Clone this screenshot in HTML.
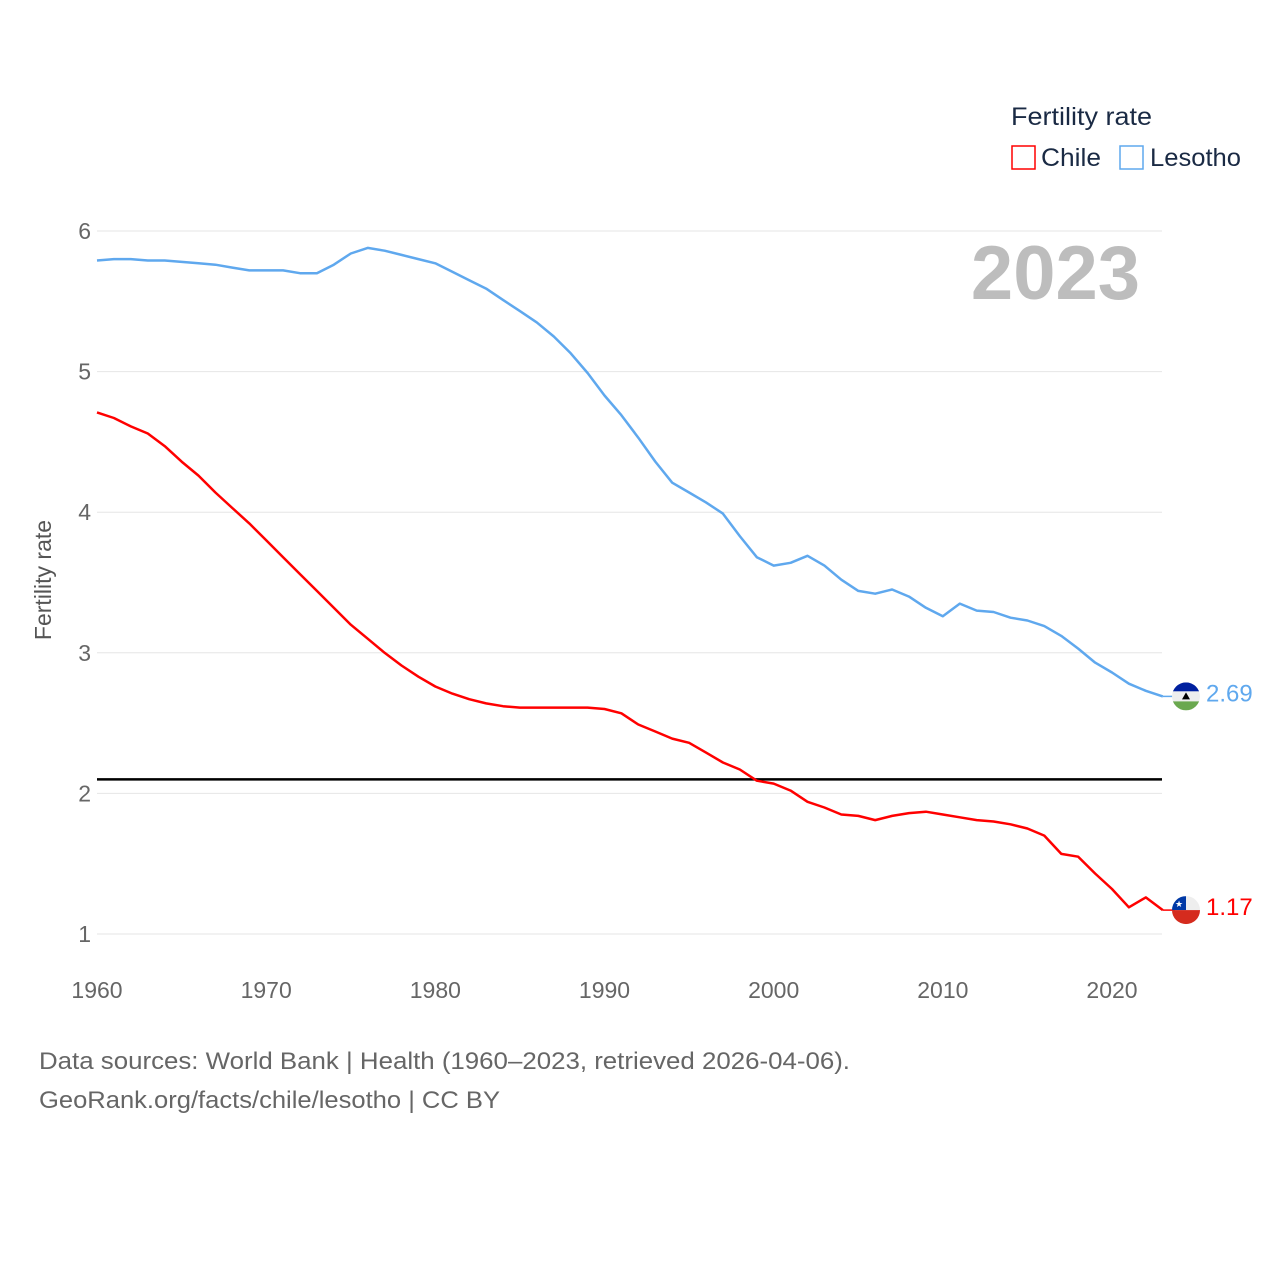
<!DOCTYPE html>
<html><head><meta charset="utf-8">
<style>
body{margin:0;background:#fff;font-family:"Liberation Sans",sans-serif;}
svg text{font-family:"Liberation Sans",sans-serif;}
</style></head>
<body>
<svg id="chart" width="1280" height="1280" viewBox="0 0 1280 1280" xmlns="http://www.w3.org/2000/svg">
<rect width="1280" height="1280" fill="#fff"/>
<g id="grid"></g>
<g id="lines"></g>
<text x="1140" y="299" text-anchor="end" font-size="76" font-weight="bold" fill="#bdbdbd">2023</text>
<text transform="translate(51,580) rotate(-90)" text-anchor="middle" font-size="23" fill="#555">Fertility rate</text>
<g>
<text x="1011" y="125" font-size="25" fill="#1a2a44" textLength="141" lengthAdjust="spacingAndGlyphs">Fertility rate</text>
<rect x="1012" y="146" width="23" height="23" fill="none" stroke="#ff0000" stroke-width="1.5"/>
<text x="1041" y="166" font-size="25" fill="#1a2a44" textLength="60" lengthAdjust="spacingAndGlyphs">Chile</text>
<rect x="1120" y="146" width="23" height="23" fill="none" stroke="#5fa8ee" stroke-width="1.5"/>
<text x="1150" y="166" font-size="25" fill="#1a2a44" textLength="91" lengthAdjust="spacingAndGlyphs">Lesotho</text>
</g>
<text x="39" y="1069" font-size="24" fill="#666" textLength="811" lengthAdjust="spacingAndGlyphs">Data sources: World Bank | Health (1960–2023, retrieved 2026-04-06).</text>
<text x="39" y="1108" font-size="24" fill="#666" textLength="461" lengthAdjust="spacingAndGlyphs">GeoRank.org/facts/chile/lesotho | CC BY</text>
</svg>
<script>
const years = [];
for (let y = 1960; y <= 2023; y++) years.push(y);
const lesotho = [5.79,5.80,5.80,5.79,5.79,5.78,5.77,5.76,5.74,5.72,5.72,5.72,5.70,5.70,5.76,5.84,5.88,5.86,5.83,5.80,
5.77,5.71,5.65,5.59,5.51,5.43,5.35,5.25,5.13,4.99,4.83,4.69,4.53,4.36,4.21,4.14,4.07,3.99,3.83,3.68,
3.62,3.64,3.69,3.62,3.52,3.44,3.42,3.45,3.40,3.32,3.26,3.35,3.30,3.29,3.25,3.23,3.19,3.12,3.03,2.93,
2.86,2.78,2.73,2.69];
const chile = [4.71,4.67,4.61,4.56,4.47,4.36,4.26,4.14,4.03,3.92,3.80,3.68,3.56,3.44,3.32,3.20,3.10,3.00,2.91,2.83,
2.76,2.71,2.67,2.64,2.62,2.61,2.61,2.61,2.61,2.61,2.60,2.57,2.49,2.44,2.39,2.36,2.29,2.22,2.17,2.09,
2.07,2.02,1.94,1.90,1.85,1.84,1.81,1.84,1.86,1.87,1.85,1.83,1.81,1.80,1.78,1.75,1.70,1.57,1.55,1.43,
1.32,1.19,1.26,1.17];
const yTicks = [1,2,3,4,5,6];
const xTicks = [1960,1970,1980,1990,2000,2010,2020];
const replacementRate = [2.1];

const NS = "http://www.w3.org/2000/svg";
const xS = yr => 97 + (yr - 1960) * (1015 / 60);
const yS = v => 934 - (v - 1) * 140.6;
function mk(tag, attrs, parent, txt){
  const e = document.createElementNS(NS, tag);
  for (const k in attrs) e.setAttribute(k, attrs[k]);
  if (txt !== undefined) e.textContent = txt;
  parent.appendChild(e); return e;
}
const grid = document.getElementById('grid');
const lines = document.getElementById('lines');
yTicks.forEach(t => {
  const l = mk('line', {x1:97, x2:1162, y1:yS(t), y2:yS(t), stroke:'#e6e6e6', 'stroke-width':1}, grid);
  
  
  const tx = mk('text', {x:91, y:yS(t)+8, 'text-anchor':'end', 'font-size':23, fill:'#666'}, grid, String(t));
  
  
});
xTicks.forEach(t => {
  const tx = mk('text', {x:xS(t), y:998, 'text-anchor':'middle', 'font-size':23, fill:'#666'}, grid, String(t));
  
  
});
replacementRate.forEach(v => {
  const l = mk('line', {x1:97, x2:1162, y1:yS(v), y2:yS(v), stroke:'#000', 'stroke-width':2.5}, lines);
  
  
});
function series(data, color, name){
  const d = data.map((v,i) => (i?'L':'M') + xS(years[i]).toFixed(1) + ',' + yS(v).toFixed(1)).join(' ');
  const p = mk('path', {d:d, fill:'none', stroke:color, 'stroke-width':2.5, 'stroke-linejoin':'round'}, lines);
  
  
  const last = data[data.length-1];
  const ly = yS(last);
  mk('line', {x1:xS(2023), x2:1175, y1:ly, y2:ly, stroke:color, 'stroke-width':1.5}, lines);
  const g = mk('g', {}, lines);
  
  
  const cx = 1186, r = 14;
  const cid = 'clip-' + name;
  const cp = mk('clipPath', {id:cid}, g);
  mk('circle', {cx:cx, cy:ly, r:r}, cp);
  const fg = mk('g', {'clip-path':'url(#'+cid+')'}, g);
  if (name === 'lesotho') {
    mk('rect', {x:cx-r, y:ly-r, width:2*r, height:9, fill:'#00209f'}, fg);
    mk('rect', {x:cx-r, y:ly-r+9, width:2*r, height:10, fill:'#eee'}, fg);
    mk('rect', {x:cx-r, y:ly-r+19, width:2*r, height:9, fill:'#6aa84f'}, fg);
    mk('path', {d:`M${cx-4},${ly+3} L${cx+4},${ly+3} L${cx},${ly-4} Z`, fill:'#000'}, fg);
  } else {
    mk('rect', {x:cx-r, y:ly-r, width:2*r, height:r, fill:'#eee'}, fg);
    mk('rect', {x:cx-r, y:ly-r, width:r, height:r, fill:'#0039a6'}, fg);
    mk('rect', {x:cx-r, y:ly, width:2*r, height:r, fill:'#d52b1e'}, fg);
    mk('text', {x:cx-7, y:ly-3, 'text-anchor':'middle', 'font-size':9, fill:'#fff'}, fg, '★');
  }
  const t = mk('text', {x:1206, y:ly+5, 'font-size':24, fill:color}, lines, last.toFixed(2));
  
  
}
series(lesotho, '#5fa8ee', 'lesotho');
series(chile, '#ff0000', 'chile');
</script>
</body></html>
